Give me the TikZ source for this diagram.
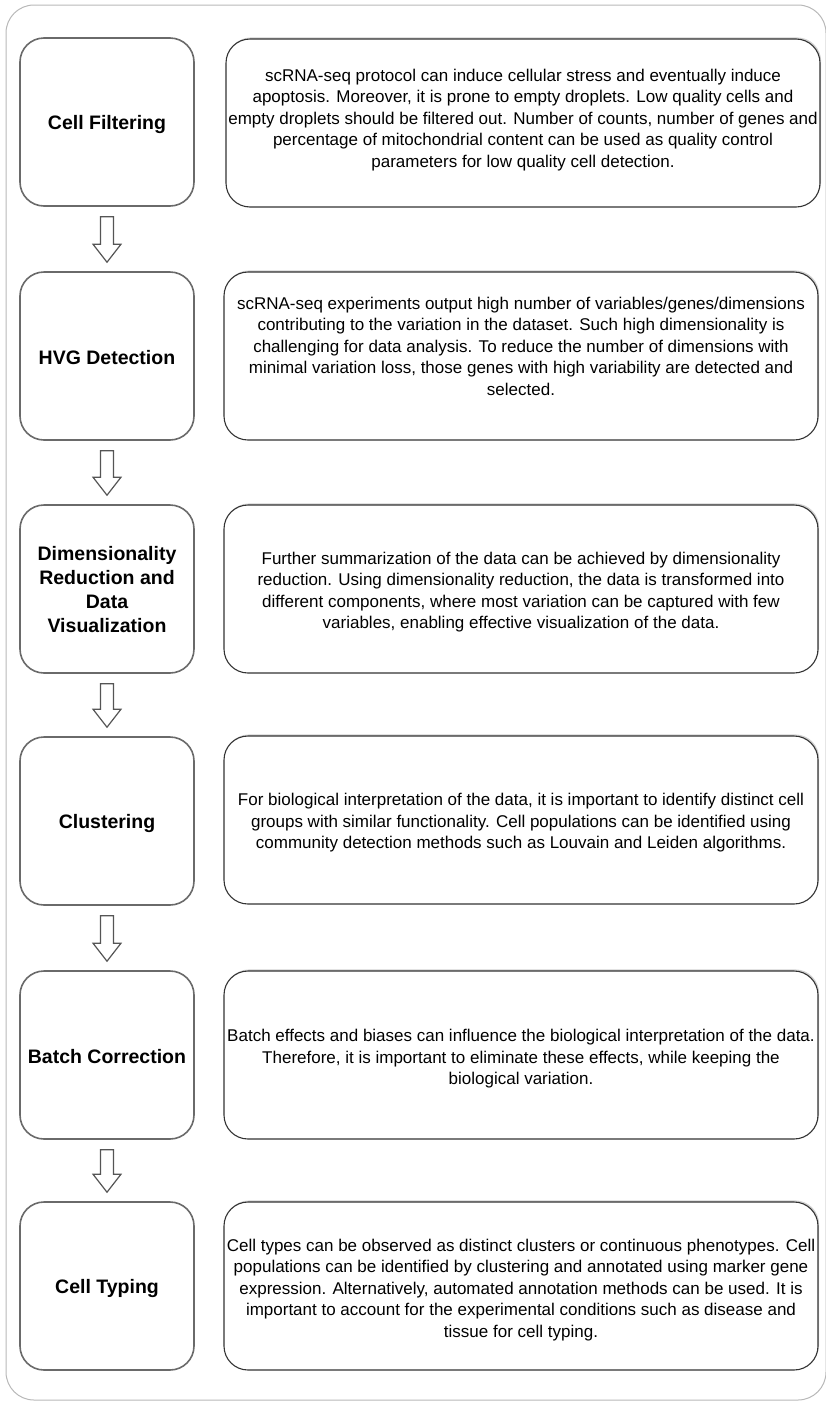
\documentclass[tikz,border=0pt]{standalone}
\usepackage{fontspec}
\setmainfont{Liberation Sans}
\usetikzlibrary{calc,shadows}
\definecolor{framegray}{HTML}{B8B8B8}
\definecolor{leftgray}{HTML}{6A6A6A}
\definecolor{rightgray}{HTML}{333333}
\tikzset{
  leftbox/.style={draw=leftgray, line width=1.6pt, rounded corners=24pt, minimum width=174pt, minimum height=168pt, inner sep=0pt, fill=white},
  rightbox/.style={draw=rightgray, line width=1.1pt, rounded corners=24pt, minimum width=594pt, minimum height=168pt, inner sep=0pt, fill=white,
    drop shadow={shadow xshift=1.2pt, shadow yshift=1.6pt, opacity=0.35, fill=gray}},
  labeltext/.style={align=center, inner sep=0pt, font=\fontsize{19.5}{24}\selectfont\bfseries},
  bodytext/.style={align=center, inner sep=0pt, font=\fontsize{17}{21.5}\selectfont},
  arrowstyle/.style={draw=leftgray!80!black, line width=1.2pt, fill=white, line join=miter},
}
\newcommand\flowarrow[2]{%
  \draw[arrowstyle] ($(#1.south)+(-6.5,10)$) -- ($(#1.south)+(6.5,10)$)
    -- ($(#2.north)+(6.5,-27)$) -- ($(#2.north)+(14,-27)$) -- ($(#2.north)+(0,-9)$)
    -- ($(#2.north)+(-14,-27)$) -- ($(#2.north)+(-6.5,-27)$) -- cycle;}
\begin{document}
\begin{tikzpicture}[x=1pt,y=-1pt]
\useasboundingbox (0,0) rectangle (826,1403);
\draw[framegray, line width=1pt, rounded corners=28pt] (6,5) rectangle (826,1400);

% left column
\node[leftbox] (L1) at (107,122) {};
\node[leftbox] (L2) at (107,356) {};
\node[leftbox] (L3) at (107,589) {};
\node[leftbox] (L4) at (107,821) {};
\node[leftbox] (L5) at (107,1055) {};
\node[leftbox] (L6) at (107,1286) {};

\node[labeltext] (T1) at ($(L1.center)+(0,2)$) {Cell Filtering};
\node[labeltext] (T2) at ($(L2.center)+(0,2)$) {HVG Detection};
\node[labeltext] (T3) at ($(L3.center)+(0,1)$) {Dimensionality\\Reduction and\\Data\\Visualization};
\node[labeltext] (T4) at ($(L4.center)+(0,2)$) {Clustering};
\node[labeltext] (T5) at ($(L5.center)+(0,2)$) {Batch Correction};
\node[labeltext] (T6) at ($(L6.center)+(0,2)$) {Cell Typing};

% right column
\node[rightbox] (R1) at (523,123) {};
\node[rightbox] (R2) at (521,356) {};
\node[rightbox] (R3) at (521,589) {};
\node[rightbox] (R4) at (521,820) {};
\node[rightbox] (R5) at (521,1055) {};
\node[rightbox] (R6) at (521,1286) {};

\node[bodytext] (B1) at ($(R1.center)+(0,-3)$) {scRNA-seq protocol can induce cellular stress and eventually induce\\apoptosis. Moreover, it is prone to empty droplets. Low quality cells and\\empty droplets should be filtered out. Number of counts, number of genes and\\percentage of mitochondrial content can be used as quality control\\parameters for low quality cell detection.};
\node[bodytext] (B2) at ($(R2.center)+(0,-10)$) {scRNA-seq experiments output high number of variables/genes/dimensions\\contributing to the variation in the dataset. Such high dimensionality is\\challenging for data analysis. To reduce the number of dimensions with\\minimal variation loss, those genes with high variability are detected and\\selected.};
\node[bodytext] (B3) at ($(R3.center)+(0,3)$) {Further summarization of the data can be achieved by dimensionality\\reduction. Using dimensionality reduction, the data is transformed into\\different components, where most variation can be captured with few\\variables, enabling effective visualization of the data.};
\node[bodytext] (B4) at ($(R4.center)+(0,3)$) {For biological interpretation of the data, it is important to identify distinct cell\\groups with similar functionality. Cell populations can be identified using\\community detection methods such as Louvain and Leiden algorithms.};
\node[bodytext] (B5) at ($(R5.center)+(0,4)$) {Batch effects and biases can influence the biological interpretation of the data.\\Therefore, it is important to eliminate these effects, while keeping the\\biological variation.};
\node[bodytext] (B6) at ($(R6.center)+(0,4)$) {Cell types can be observed as distinct clusters or continuous phenotypes. Cell\\populations can be identified by clustering and annotated using marker gene\\expression. Alternatively, automated annotation methods can be used. It is\\important to account for the experimental conditions such as disease and\\tissue for cell typing.};

% arrows
\flowarrow{L1}{L2}
\flowarrow{L2}{L3}
\flowarrow{L3}{L4}
\flowarrow{L4}{L5}
\flowarrow{L5}{L6}
\end{tikzpicture}
\end{document}
